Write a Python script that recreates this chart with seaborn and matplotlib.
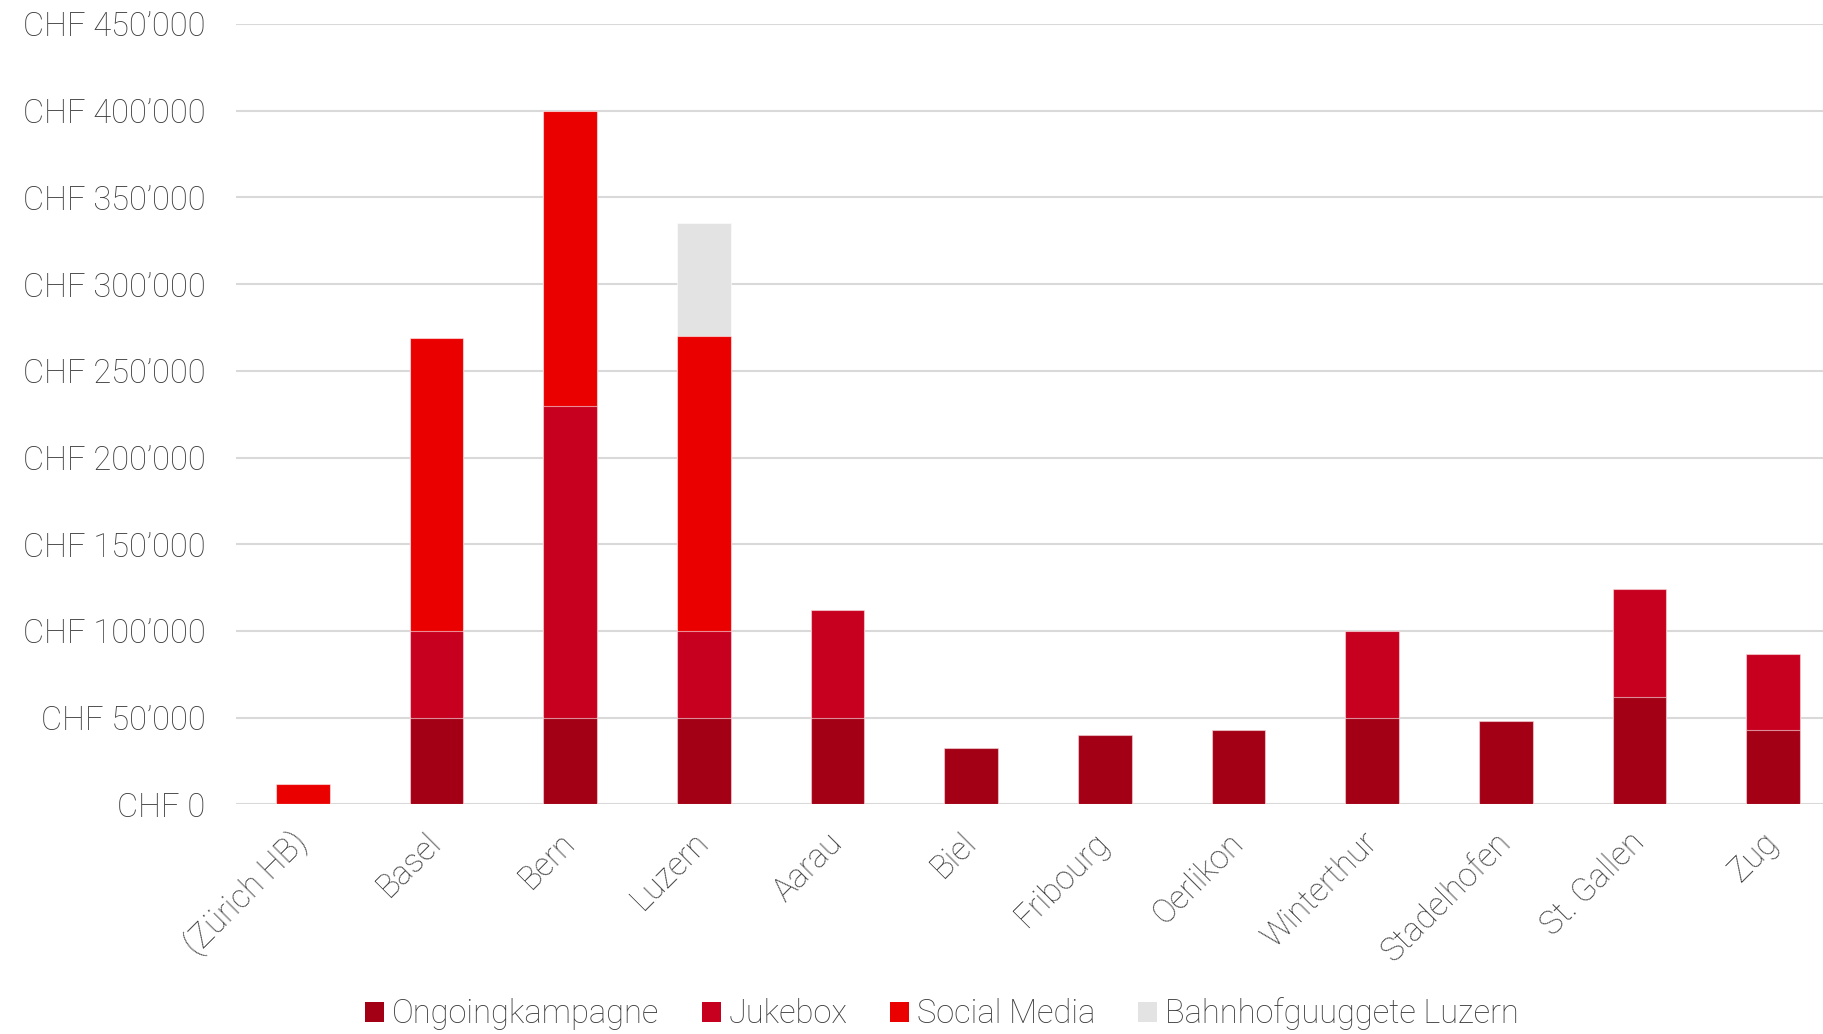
import matplotlib
matplotlib.use("Agg")
import matplotlib.pyplot as plt
from matplotlib.patches import Patch
import numpy as np
import pandas as pd
import seaborn as sns

# Budget per location, split by campaign
locations = ["(Zürich HB)", "Basel", "Bern", "Luzern", "Aarau", "Biel", "Fribourg",
             "Oerlikon", "Winterthur", "Stadelhofen", "St. Gallen", "Zug"]
ongoing = [0, 50000, 50000, 50000, 50000, 32500, 40000, 43000, 50000, 48000, 62000, 43000]
jukebox = [0, 50000, 180000, 50000, 62000, 0, 0, 0, 50000, 0, 62000, 44000]
social_media = [12000, 169000, 170000, 170000, 0, 0, 0, 0, 0, 0, 0, 0]
bahnhof_luzern = [0, 0, 0, 65000, 0, 0, 0, 0, 0, 0, 0, 0]

series_names = ["Ongoingkampagne", "Jukebox", "Social Media", "Bahnhofguuggete Luzern"]
series_colors = ["#A30015", "#C6001E", "#EB0000", "#E3E3E3"]
y_ticks = list(range(0, 450001, 50000))

sns.set_theme(style="white")
plt.rcParams["font.family"] = ["Roboto", "DejaVu Sans"]
plt.rcParams["font.weight"] = "light"

text_color = "#3C3C3C"
grid_color = "#D9D9D9"
fs = 23.5

fig = plt.figure(figsize=(18.24, 10.34), dpi=100)
ax = fig.add_axes([236 / 1824, 1 - 804.4 / 1034, 1 - 236 / 1824, (804.4 - 24) / 1034])

layers = np.array([ongoing, jukebox, social_media, bahnhof_luzern], dtype=float)
cumulative = np.cumsum(layers, axis=0)

# Draw cumulative totals from the top layer down so each segment shows its own share
for i in range(len(series_names) - 1, -1, -1):
    df = pd.DataFrame({"location": locations, "value": cumulative[i]})
    sns.barplot(data=df, x="location", y="value", order=locations, color=series_colors[i],
                saturation=1, width=0.4, edgecolor=(1, 1, 1, 0.55), linewidth=0.8,
                errorbar=None, ax=ax, zorder=3)

ax.set_ylim(0, 450000)
ax.set_xlim(-0.5, 11.38)
ax.set_yticks(y_ticks)
ax.set_yticklabels([f"CHF {v:,}".replace(",", "\u2019") for v in y_ticks])
ax.yaxis.grid(True, color=grid_color, linewidth=1.5, zorder=0)
ax.xaxis.grid(False)
ax.set_axisbelow(True)
for s in ax.spines.values():
    s.set_visible(False)
ax.set_xlabel("")
ax.set_ylabel("")
ax.tick_params(axis="y", length=0, pad=22, labelsize=fs, labelcolor=text_color)
ax.tick_params(axis="x", length=0, pad=24, labelsize=fs, labelcolor=text_color)
for lbl in ax.get_xticklabels():
    lbl.set_rotation(45)
    lbl.set_ha("right")
    lbl.set_va("center")
    lbl.set_rotation_mode("anchor")

handles = [Patch(facecolor=c, edgecolor="none", label=n) for n, c in zip(series_names, series_colors)]
leg = fig.legend(handles=handles, loc="center", bbox_to_anchor=(942 / 1824, 1 - 1014 / 1034),
                 ncol=4, frameon=False, fontsize=fs, handlelength=0.58, handleheight=0.58,
                 handletextpad=0.25, columnspacing=1.3, borderaxespad=0)
for t in leg.get_texts():
    t.set_color(text_color)

fig.savefig("out.png", dpi=100, facecolor="white")
